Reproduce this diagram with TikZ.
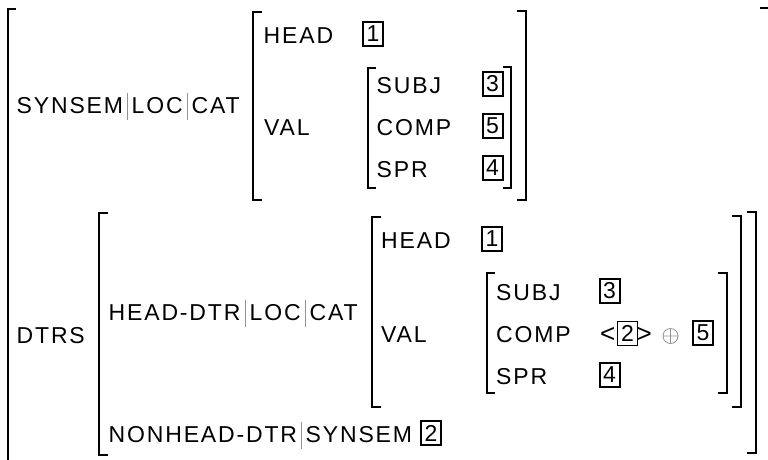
\documentclass[tikz,border=0pt]{standalone}
\usepackage{fontspec}
\setmainfont{Liberation Sans}[LetterSpace=8]
\usetikzlibrary{calc}
\begin{document}
\begin{tikzpicture}[x=1pt,y=-1pt,
  every node/.style={inner sep=0pt,anchor=base west,font=\fontsize{23}{28}\selectfont},
  brk/.style={line width=2pt},
  pathbar/.style={gray!85,line width=1.1pt},
  tag/.style={draw,line width=2pt,anchor=center,minimum width=20pt,minimum height=24pt},
  thintag/.style={tag,line width=1pt},
  angle/.style={font=\fontsize{26}{28}\selectfont}]
\useasboundingbox (0,0) rectangle (768,459);

\draw[brk] (16,9) -| (8,470);
\draw[brk] (760,8) -| (769,470);

\node (synsem) at (16.5,113) {SYNSEM};
\node (loca) at (131.5,113) {LOC};
\node (cata) at (191.5,113) {CAT};
\draw[pathbar] ($(synsem.base east)!.5!(loca.base west)$) ++(0,-20) -- ++(0,27);
\draw[pathbar] ($(loca.base east)!.5!(cata.base west)$) ++(0,-20) -- ++(0,27);

\draw[brk] (262,12) -| (253,200) -- (262,200);
\draw[brk] (517,11) -| (526,200) -- (517,200);
\node (heada) at (263.5,43) {HEAD};
\node[tag] (taga1) at (373,34) {1};
\node (vala) at (264,135) {VAL};

\draw[brk] (376,68) -| (368,188) -- (376,188);
\draw[brk] (503,67) -| (511,188) -- (503,188);
\node (subja) at (376.5,93) {SUBJ};
\node (compa) at (376.5,135) {COMP};
\node (spra) at (376.5,177) {SPR};
\node[tag] (taga3) at (492.5,84) {3};
\node[tag] (taga5) at (492.5,126) {5};
\node[tag] (taga4) at (492.5,168) {4};

\node (dtrs) at (16.5,343) {DTRS};
\draw[brk] (108,213) -| (99,455) -- (108,455);
\draw[brk] (747,212) -| (756,453) -- (747,453);

\node (headdtr) at (108.5,320) {HEAD-DTR};
\node (locb) at (249.5,320) {LOC};
\node (catb) at (309.5,320) {CAT};
\draw[pathbar] ($(headdtr.base east)!.5!(locb.base west)$) ++(0,-20) -- ++(0,27);
\draw[pathbar] ($(locb.base east)!.5!(catb.base west)$) ++(0,-20) -- ++(0,27);

\draw[brk] (381,217) -| (372,407) -- (381,407);
\draw[brk] (732,216) -| (741,407) -- (732,407);
\node (headb) at (381,248) {HEAD};
\node[tag] (tagb1) at (492,239) {1};
\node (valb) at (381,342) {VAL};

\draw[brk] (495,273) -| (487,393) -- (495,393);
\draw[brk] (718,273) -| (727,393) -- (718,393);
\node (subjb) at (496,300) {SUBJ};
\node (compb) at (496,342) {COMP};
\node (sprb) at (496,384) {SPR};
\node[tag] (tagb3) at (609.5,291) {3};
\node[angle] (lt) at (600,342) {<};
\node[thintag] (tagb2) at (627.5,333) {2};
\node[angle] (gt) at (636.5,342) {>};
\draw[gray!85,line width=0.8pt] (670.5,336) circle[radius=7.5pt] (663,336) -- (678,336) (670.5,328.5) -- (670.5,343.5);
\node[tag] (tagb5) at (703,333) {5};
\node[tag] (tagb4) at (609.5,375) {4};

\node (nonhead) at (108.5,442) {NONHEAD-DTR};
\node (synsemb) at (305.5,442) {SYNSEM};
\draw[pathbar] ($(nonhead.base east)!.5!(synsemb.base west)$) ++(0,-20) -- ++(0,27);
\node[tag] (tagc2) at (431,433) {2};
\end{tikzpicture}
\end{document}
